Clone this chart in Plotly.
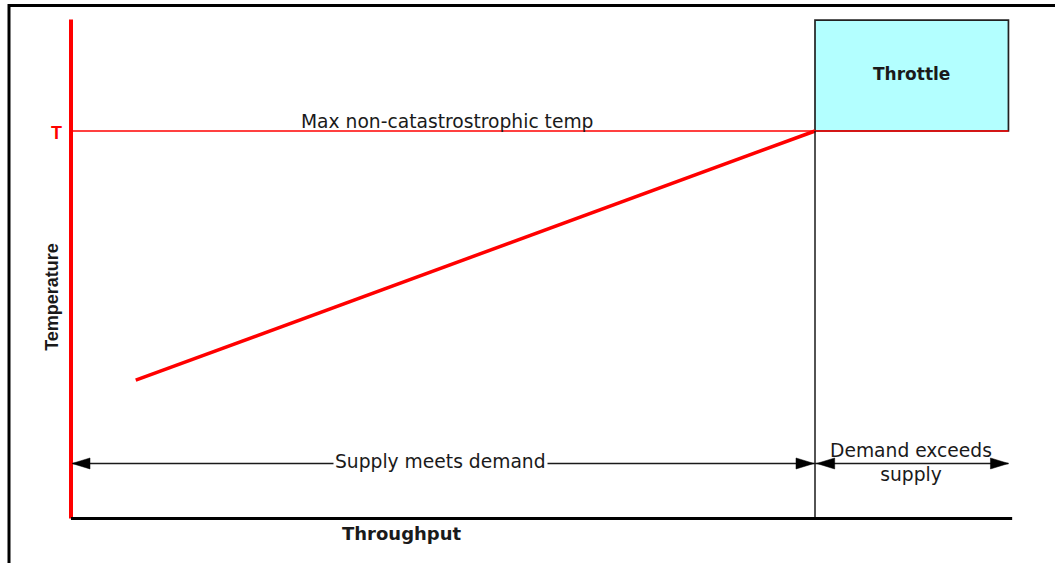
import plotly.graph_objects as go

# Throughput is scaled so that full capacity = 100; temperature so that T (max) = 100
throughput_line = [8.7, 100]          # operating curve, throughput
temperature_line = [35.7, 100]        # operating curve, temperature
t_max = 100                           # max non-catastrophic temperature
capacity = 100                        # throughput where demand overtakes supply
throttle_x = [100, 126]               # throttle region, throughput span
throttle_y = [100, 128.6]             # throttle region, temperature span
axis_x_end = 126.5
axis_y_end = 128.8
region_arrow_y = 14.2
supply_meets_span = [0, 100]
demand_exceeds_span = [100, 126]

labels = {
    "max": "Max non-catastrostrophic temp",
    "supply": "Supply meets demand",
    "demand": "Demand exceeds<br>supply",
    "throttle": "Throttle",
    "x": "Throughput",
    "y": "Temperature",
    "t": "T",
}

RED = "#ff0000"
INK = "#1a1a1a"
REG = dict(family="DejaVu Sans", size=18.7, color=INK)

fig = go.Figure()

# Max temperature line, running under the throttle box
fig.add_trace(go.Scatter(
    x=[0, throttle_x[1]], y=[t_max, t_max], mode="lines",
    line=dict(color=RED, width=1.6), hoverinfo="skip"))

# Temperature rising with throughput
fig.add_trace(go.Scatter(
    x=throughput_line, y=temperature_line, mode="lines",
    line=dict(color=RED, width=3.5), hoverinfo="skip"))

# Region span lines
for span in (supply_meets_span, demand_exceeds_span):
    fig.add_trace(go.Scatter(
        x=span, y=[region_arrow_y, region_arrow_y], mode="lines",
        line=dict(color=INK, width=1.3), hoverinfo="skip"))

shapes = []

# Outer frame (left and top edges)
fx = 9 / 1055
fy = 1 - 5.5 / 563
shapes.append(dict(type="path", xref="paper", yref="paper",
                   path=f"M {fx},-0.05 L {fx},{fy} L 1.05,{fy}",
                   line=dict(color="black", width=3)))

# Throttle box
shapes.append(dict(type="rect", xref="x", yref="y", layer="below",
                   x0=throttle_x[0], x1=throttle_x[1],
                   y0=throttle_y[0], y1=throttle_y[1],
                   fillcolor="#b3ffff", line=dict(color="#222222", width=1.7)))

# Capacity divider
shapes.append(dict(type="line", xref="x", yref="y",
                   x0=capacity, x1=capacity, y0=0, y1=t_max,
                   line=dict(color=INK, width=1.5)))

# Temperature axis (red) and throughput axis (black)
shapes.append(dict(type="line", xref="x", yref="y",
                   x0=0, x1=0, y0=0, y1=axis_y_end,
                   line=dict(color=RED, width=4)))
shapes.append(dict(type="line", xref="x", yref="y",
                   x0=0, x1=axis_x_end, y0=0, y1=0,
                   line=dict(color="black", width=3)))


def arrow_head(x_anchor, direction, gap):
    """Filled triangular head, tip `gap` px inside the anchor, pointing `direction` (-1 left, +1 right)."""
    tip = -direction * gap
    base = tip - direction * 18
    return dict(type="path", xref="x", yref="y",
                xsizemode="pixel", ysizemode="pixel",
                xanchor=x_anchor, yanchor=region_arrow_y,
                path=f"M {tip},0 L {base},5.5 L {base},-5.5 Z",
                fillcolor="black", line=dict(color="black", width=0.5))


shapes += [
    arrow_head(supply_meets_span[0], -1, 1),
    arrow_head(supply_meets_span[1], 1, 1),
    arrow_head(demand_exceeds_span[0], -1, 1.7),
    arrow_head(demand_exceeds_span[1], 1, 0),
]

annotations = [
    dict(x=sum(supply_meets_span) / 2 + 0.5, y=t_max, yshift=10,
         text=labels["max"], font=REG),
    dict(x=49.7, y=region_arrow_y, yshift=1.5, text=labels["supply"],
         font=REG, bgcolor="white", borderpad=1),
    dict(x=112.9, y=region_arrow_y, yshift=1, text=labels["demand"], font=REG),
    dict(x=sum(throttle_x) / 2, y=sum(throttle_y) / 2, yshift=1.5,
         text=labels["throttle"],
         font=dict(family="DejaVu Sans", size=17, color=INK, weight="bold")),
    dict(x=44.5, y=0, yshift=-15.3, text=labels["x"],
         font=dict(family="DejaVu Sans", size=18, color=INK, weight="bold")),
    dict(x=0, xshift=-19, y=57.2, text=labels["y"], textangle=-90,
         font=dict(family="Liberation Sans", size=18, color=INK, weight="bold")),
    dict(x=0, xshift=-15, y=t_max, yshift=-1.5, text=labels["t"],
         font=dict(family="Liberation Sans", size=18, color=RED, weight="bold")),
]
for a in annotations:
    a.update(xref="x", yref="y", showarrow=False,
             xanchor="center", yanchor="middle")

# Pixel-aligned data ranges: x 7.44 px/unit from the red axis, y 3.875 px/unit from the baseline
fig.update_layout(
    width=1055, height=563,
    margin=dict(l=0, r=0, t=0, b=0),
    paper_bgcolor="white", plot_bgcolor="white",
    showlegend=False,
    shapes=shapes, annotations=annotations,
    xaxis=dict(range=[-71 / 7.44, (1055 - 71) / 7.44], visible=False, fixedrange=True),
    yaxis=dict(range=[(518.5 - 563) / 3.875, 518.5 / 3.875], visible=False, fixedrange=True),
)

fig.write_html("out.html", config={"displayModeBar": False})
